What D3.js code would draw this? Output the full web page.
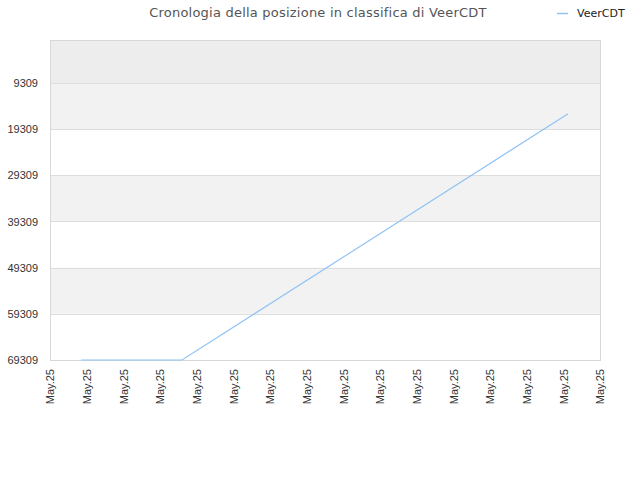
<!DOCTYPE html>
<html>
<head>
<meta charset="utf-8">
<script src="https://cdn.jsdelivr.net/npm/d3@7"></script>
<style>
  body { margin: 0; background: #fff; }
  svg { font-family: "DejaVu Sans", sans-serif; }
</style>
</head>
<body>
<svg id="chart" width="640" height="480"></svg>
<script>
// x tick labels (one per day slot, all in May 2025)
var tickLabels = ["May.25","May.25","May.25","May.25","May.25","May.25","May.25","May.25",
                  "May.25","May.25","May.25","May.25","May.25","May.25","May.25","May.25"];
// y tick values (rank positions)
var rankTicks = [9309, 19309, 29309, 39309, 49309, 59309, 69309];
// series: position on the time axis (in tick slots) and rank
var seriesX = [0.85, 3.6, 14.13];
var seriesRank = [69309, 69309, 15950];
var seriesName = "VeerCDT";

var svg = d3.select("#chart");
var margin = { left: 50, right: 40, top: 40, bottom: 120 };
var width = 640 - margin.left - margin.right;
var height = 480 - margin.top - margin.bottom;

var x = d3.scaleLinear().domain([0, tickLabels.length - 1]).range([margin.left, margin.left + width]);
var y = d3.scaleLinear().domain([0, 69309]).range([margin.top, margin.top + height]);

// alternating bands
var bandEdges = [0].concat(rankTicks);
var bandColors = ["#ededed", "#f2f2f2", "#ffffff", "#f2f2f2", "#ffffff", "#f2f2f2", "#ffffff"];
svg.append("g").selectAll("rect")
    .data(d3.range(bandEdges.length - 1))
    .enter().append("rect")
    .attr("x", margin.left)
    .attr("width", width)
    .attr("y", function (i) { return y(bandEdges[i]); })
    .attr("height", function (i) { return y(bandEdges[i + 1]) - y(bandEdges[i]); })
    .attr("fill", function (i) { return bandColors[i]; });

// grid lines
svg.append("g").selectAll("line")
    .data(rankTicks)
    .enter().append("line")
    .attr("x1", margin.left).attr("x2", margin.left + width)
    .attr("y1", function (d) { return Math.round(y(d)) + 0.5; })
    .attr("y2", function (d) { return Math.round(y(d)) + 0.5; })
    .attr("stroke", "#dddddd");

// plot frame
svg.append("rect")
    .attr("x", margin.left + 0.5).attr("y", margin.top + 0.5)
    .attr("width", width).attr("height", height)
    .attr("fill", "none").attr("stroke", "#d8d8d8");

// y axis
var yAxis = d3.axisLeft(y).tickValues(rankTicks).tickSize(0).tickPadding(12).tickFormat(d3.format("d"));
var gy = svg.append("g").attr("transform", "translate(" + margin.left + ",0)").call(yAxis);
gy.select(".domain").remove();
gy.selectAll("text").attr("fill", "#333").style("font-size", "11px");

// x axis
var xAxis = d3.axisBottom(x).tickValues(d3.range(tickLabels.length)).tickSize(0)
    .tickFormat(function (d) { return tickLabels[d]; });
var gx = svg.append("g").attr("transform", "translate(0," + (margin.top + height) + ")").call(xAxis);
gx.select(".domain").remove();
gx.selectAll("text")
    .attr("fill", "#333").style("font-size", "11px")
    .attr("text-anchor", "end")
    .attr("transform", "rotate(-90)")
    .attr("x", -9).attr("y", 0).attr("dy", "0.35em");

// series line
var line = d3.line()
    .x(function (d, i) { return x(seriesX[i]); })
    .y(function (d) { return y(d); });
svg.append("path")
    .datum(seriesRank)
    .attr("d", line)
    .attr("fill", "none")
    .attr("stroke", "#90c3f5")
    .attr("stroke-width", 1.2);

// title
svg.append("text")
    .attr("x", 318).attr("y", 17)
    .attr("text-anchor", "middle")
    .attr("fill", "#555")
    .style("font-size", "13px")
    .style("letter-spacing", "0.22px")
    .text("Cronologia della posizione in classifica di " + seriesName);

// legend
svg.append("line")
    .attr("x1", 557).attr("x2", 568).attr("y1", 13.5).attr("y2", 13.5)
    .attr("stroke", "#90c3f5").attr("stroke-width", 1.5);
svg.append("text")
    .attr("x", 577).attr("y", 17)
    .attr("fill", "#222")
    .style("font-size", "11px")
    .text(seriesName);
</script>
</body>
</html>
